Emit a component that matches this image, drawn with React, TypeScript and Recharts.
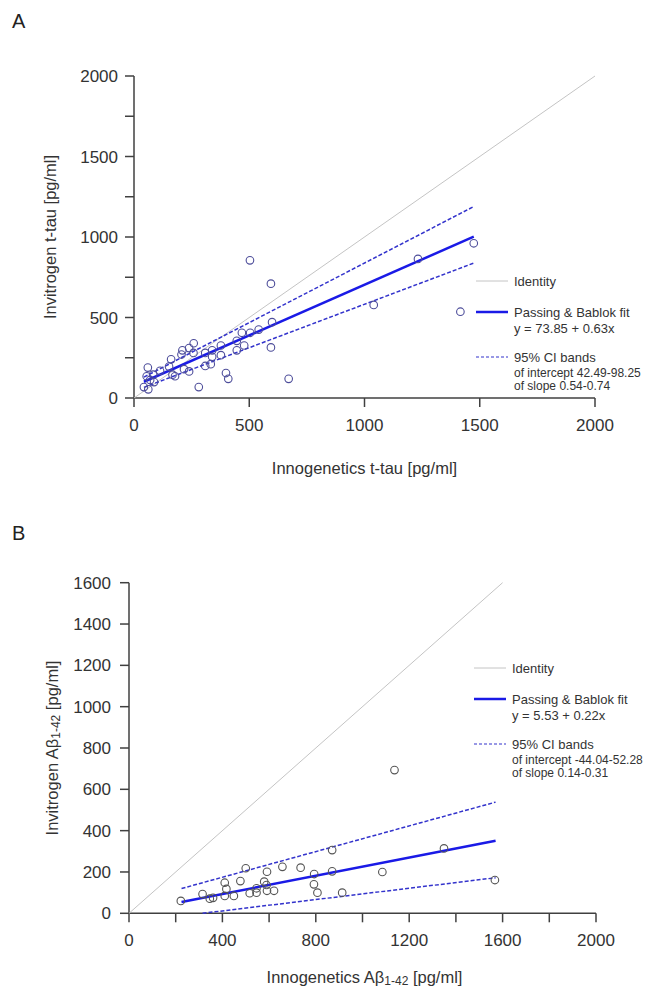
import React from "react";
import { ScatterChart, Scatter, XAxis, YAxis } from "recharts";

// Panel A: t-tau, Innogenetics (x) vs Invitrogen (y), pg/ml
const tauPoints = [
  { x: 43, y: 68 }, { x: 62, y: 54 }, { x: 55, y: 135 }, { x: 60, y: 189 },
  { x: 83, y: 145 }, { x: 87, y: 99 }, { x: 70, y: 112 }, { x: 113, y: 169 },
  { x: 152, y: 195 }, { x: 161, y: 240 }, { x: 167, y: 145 }, { x: 178, y: 135 },
  { x: 206, y: 270 }, { x: 210, y: 296 }, { x: 217, y: 179 }, { x: 239, y: 165 },
  { x: 239, y: 310 }, { x: 258, y: 280 }, { x: 259, y: 340 }, { x: 281, y: 68 },
  { x: 309, y: 199 }, { x: 309, y: 280 }, { x: 333, y: 210 }, { x: 339, y: 256 },
  { x: 339, y: 296 }, { x: 377, y: 266 }, { x: 377, y: 326 }, { x: 399, y: 155 },
  { x: 409, y: 119 }, { x: 446, y: 296 }, { x: 446, y: 355 }, { x: 468, y: 405 },
  { x: 478, y: 326 }, { x: 503, y: 855 }, { x: 504, y: 405 }, { x: 541, y: 425 },
  { x: 594, y: 710 }, { x: 594, y: 314 }, { x: 599, y: 471 }, { x: 671, y: 119 },
  { x: 1040, y: 578 }, { x: 1232, y: 864 }, { x: 1416, y: 536 }, { x: 1474, y: 961 },
];
const tauIdentity = [{ x: 0, y: 0 }, { x: 2000, y: 2000 }];
const tauFit = [{ x: 43, y: 101 }, { x: 1474, y: 1002 }];
const tauUpper = [{ x: 43, y: 130 }, { x: 1474, y: 1189 }];
const tauLower = [{ x: 43, y: 66 }, { x: 1474, y: 838 }];
const tauXTicks = [0, 500, 1000, 1500, 2000];
const tauYTicks = [0, 250, 500, 750, 1000, 1250, 1500, 1750, 2000];

// Panel B: Aβ1-42
const abPoints = [
  { x: 222, y: 60 }, { x: 315, y: 93 }, { x: 346, y: 71 }, { x: 360, y: 75 },
  { x: 410, y: 148 }, { x: 417, y: 118 }, { x: 410, y: 84 }, { x: 449, y: 84 },
  { x: 477, y: 156 }, { x: 500, y: 218 }, { x: 517, y: 97 }, { x: 546, y: 100 },
  { x: 546, y: 121 }, { x: 579, y: 153 }, { x: 589, y: 137 }, { x: 591, y: 201 },
  { x: 591, y: 109 }, { x: 621, y: 109 }, { x: 657, y: 225 }, { x: 735, y: 221 },
  { x: 793, y: 190 }, { x: 792, y: 140 }, { x: 807, y: 100 }, { x: 870, y: 306 },
  { x: 870, y: 203 }, { x: 913, y: 100 }, { x: 1085, y: 200 }, { x: 1137, y: 693 },
  { x: 1349, y: 314 }, { x: 1567, y: 161 },
];
const abIdentity = [{ x: 0, y: 0 }, { x: 1600, y: 1600 }];
const abFit = [{ x: 225, y: 55 }, { x: 1570, y: 351 }];
const abUpper = [{ x: 225, y: 120 }, { x: 1570, y: 538 }];
const abLower = [{ x: 315, y: 0 }, { x: 1570, y: 172 }];
const abXTicks = [0, 200, 400, 600, 800, 1000, 1200, 1400, 1600, 1800, 2000];
const abYTicks = [0, 200, 400, 600, 800, 1000, 1200, 1400, 1600];

const FONT = "Arial, 'Liberation Sans', sans-serif";
const AXIS = "#404040";
const TEXT = "#333";
const IDENT = "#c4c4c4";
const FIT = "#1a1ae6";
const BAND = "#3333cc";

const noDot = () => <g />;

const ring = (color: string) => (props: any) => (
  <circle cx={props.cx} cy={props.cy} r={3.8} fill="none" stroke={color} strokeWidth={1.1} />
);

const xTick = (step: number) => (props: any) => {
  const v = props.payload.value;
  if (v % step !== 0) return <g />;
  return (
    <text x={props.x} y={props.y} dy="0.71em" textAnchor="middle" fontSize={17} fill={TEXT} fontFamily={FONT}>
      {v}
    </text>
  );
};

const yTick = (step: number) => (props: any) => {
  const v = props.payload.value;
  if (v % step !== 0) return <g />;
  return (
    <text x={props.x} y={props.y} dy="0.355em" textAnchor="end" fontSize={17} fill={TEXT} fontFamily={FONT}>
      {v}
    </text>
  );
};

function Legend({ top, left, intercept, slope, eq }: any) {
  const t = { fontFamily: FONT, fill: TEXT };
  return (
    <svg width={661} height={140} style={{ position: "absolute", left: 0, top, pointerEvents: "none" }}>
      <line x1={left} x2={left + 32} y1={8} y2={8} stroke={IDENT} strokeWidth={1} />
      <text x={left + 38} y={8} dy="0.355em" fontSize={13} {...t}>Identity</text>
      <line x1={left} x2={left + 32} y1={39} y2={39} stroke={FIT} strokeWidth={2.5} />
      <text x={left + 38} y={39} dy="0.355em" fontSize={13} {...t}>Passing &amp; Bablok fit</text>
      <text x={left + 38} y={55} dy="0.355em" fontSize={13} {...t}>{eq}</text>
      <line x1={left} x2={left + 32} y1={84} y2={84} stroke={BAND} strokeWidth={1.2} strokeDasharray="3 2" />
      <text x={left + 38} y={84} dy="0.355em" fontSize={13} {...t}>95% CI bands</text>
      <text x={left + 38} y={100} dy="0.355em" fontSize={12} {...t}>of intercept {intercept}</text>
      <text x={left + 38} y={113} dy="0.355em" fontSize={12} {...t}>of slope {slope}</text>
    </svg>
  );
}

export default function App() {
  const axisLine = { stroke: AXIS, strokeWidth: 1.5 };
  return (
    <div style={{ position: "absolute", left: 0, top: 0, width: 661, height: 998, background: "#fff", fontFamily: FONT }}>
      <div style={{ position: "absolute", left: 0, top: 0 }}>
        <ScatterChart width={661} height={500} margin={{ top: 76, right: 66, left: 0, bottom: 0 }}>
          <XAxis
            type="number" dataKey="x" domain={[0, 2000]} ticks={tauXTicks} height={102}
            axisLine={axisLine} tickLine={axisLine} tickSize={9} tickMargin={12}
            tick={xTick(500)} interval={0}
            label={{
              content: (p: any) => (
                <text x={p.viewBox.x + p.viewBox.width / 2} y={p.viewBox.y + 70} textAnchor="middle" dominantBaseline="central" fontSize={16.5} fill={TEXT} fontFamily={FONT}>
                  Innogenetics t-tau [pg/ml]
                </text>
              ),
            }}
          />
          <YAxis
            type="number" dataKey="y" domain={[0, 2000]} ticks={tauYTicks} width={134}
            axisLine={axisLine} tickLine={axisLine} tickSize={9} tickMargin={7}
            tick={yTick(500)} interval={0}
            label={{
              content: (p: any) => {
                const cy = p.viewBox.y + p.viewBox.height / 2;
                return (
                  <text x={50} y={cy} transform={`rotate(-90 50 ${cy})`} textAnchor="middle" dominantBaseline="central" fontSize={16.5} fill={TEXT} fontFamily={FONT}>
                    Invitrogen t-tau [pg/ml]
                  </text>
                );
              },
            }}
          />
          <Scatter data={tauIdentity} line={{ stroke: IDENT, strokeWidth: 1 }} shape={noDot} isAnimationActive={false} />
          <Scatter data={tauUpper} line={{ stroke: BAND, strokeWidth: 1.5, strokeDasharray: "4 2" }} shape={noDot} isAnimationActive={false} />
          <Scatter data={tauLower} line={{ stroke: BAND, strokeWidth: 1.5, strokeDasharray: "4 2" }} shape={noDot} isAnimationActive={false} />
          <Scatter data={tauFit} line={{ stroke: FIT, strokeWidth: 2.5 }} shape={noDot} isAnimationActive={false} />
          <Scatter data={tauPoints} shape={ring("#4d4d9a")} isAnimationActive={false} />
        </ScatterChart>
      </div>
      <Legend top={273} left={476} eq="y = 73.85 + 0.63x" intercept="42.49-98.25" slope="0.54-0.74" />
      <div style={{ position: "absolute", left: 12, top: 10, fontSize: 20, color: "#222" }}>A</div>

      <div style={{ position: "absolute", left: 0, top: 500 }}>
        <ScatterChart width={661} height={498} margin={{ top: 82.7, right: 65, left: 0, bottom: 0 }}>
          <XAxis
            type="number" dataKey="x" domain={[0, 2000]} ticks={abXTicks} height={84.7}
            axisLine={axisLine} tickLine={axisLine} tickSize={9} tickMargin={12}
            tick={xTick(400)} interval={0}
            label={{
              content: (p: any) => (
                <text x={p.viewBox.x + p.viewBox.width / 2 + 2} y={p.viewBox.y + 64} textAnchor="middle" dominantBaseline="central" fontSize={16.5} fill={TEXT} fontFamily={FONT}>
                  Innogenetics Aβ<tspan fontSize={12} dy={4}>1-42</tspan><tspan dy={-4}> [pg/ml]</tspan>
                </text>
              ),
            }}
          />
          <YAxis
            type="number" dataKey="y" domain={[0, 1600]} ticks={abYTicks} width={129}
            axisLine={axisLine} tickLine={axisLine} tickSize={9} tickMargin={9}
            tick={yTick(200)} interval={0}
            label={{
              content: (p: any) => {
                const cy = p.viewBox.y + p.viewBox.height / 2;
                return (
                  <text x={52} y={cy} transform={`rotate(-90 52 ${cy})`} textAnchor="middle" dominantBaseline="central" fontSize={16.5} fill={TEXT} fontFamily={FONT}>
                    Invitrogen Aβ<tspan fontSize={12} dy={4}>1-42</tspan><tspan dy={-4}> [pg/ml]</tspan>
                  </text>
                );
              },
            }}
          />
          <Scatter data={abIdentity} line={{ stroke: IDENT, strokeWidth: 1 }} shape={noDot} isAnimationActive={false} />
          <Scatter data={abUpper} line={{ stroke: BAND, strokeWidth: 1.5, strokeDasharray: "4 2" }} shape={noDot} isAnimationActive={false} />
          <Scatter data={abLower} line={{ stroke: BAND, strokeWidth: 1.5, strokeDasharray: "4 2" }} shape={noDot} isAnimationActive={false} />
          <Scatter data={abFit} line={{ stroke: FIT, strokeWidth: 2.5 }} shape={noDot} isAnimationActive={false} />
          <Scatter data={abPoints} shape={ring("#555")} isAnimationActive={false} />
        </ScatterChart>
      </div>
      <Legend top={660} left={474} eq="y = 5.53 + 0.22x" intercept="-44.04-52.28" slope="0.14-0.31" />
      <div style={{ position: "absolute", left: 12, top: 522, fontSize: 20, color: "#222" }}>B</div>
    </div>
  );
}
